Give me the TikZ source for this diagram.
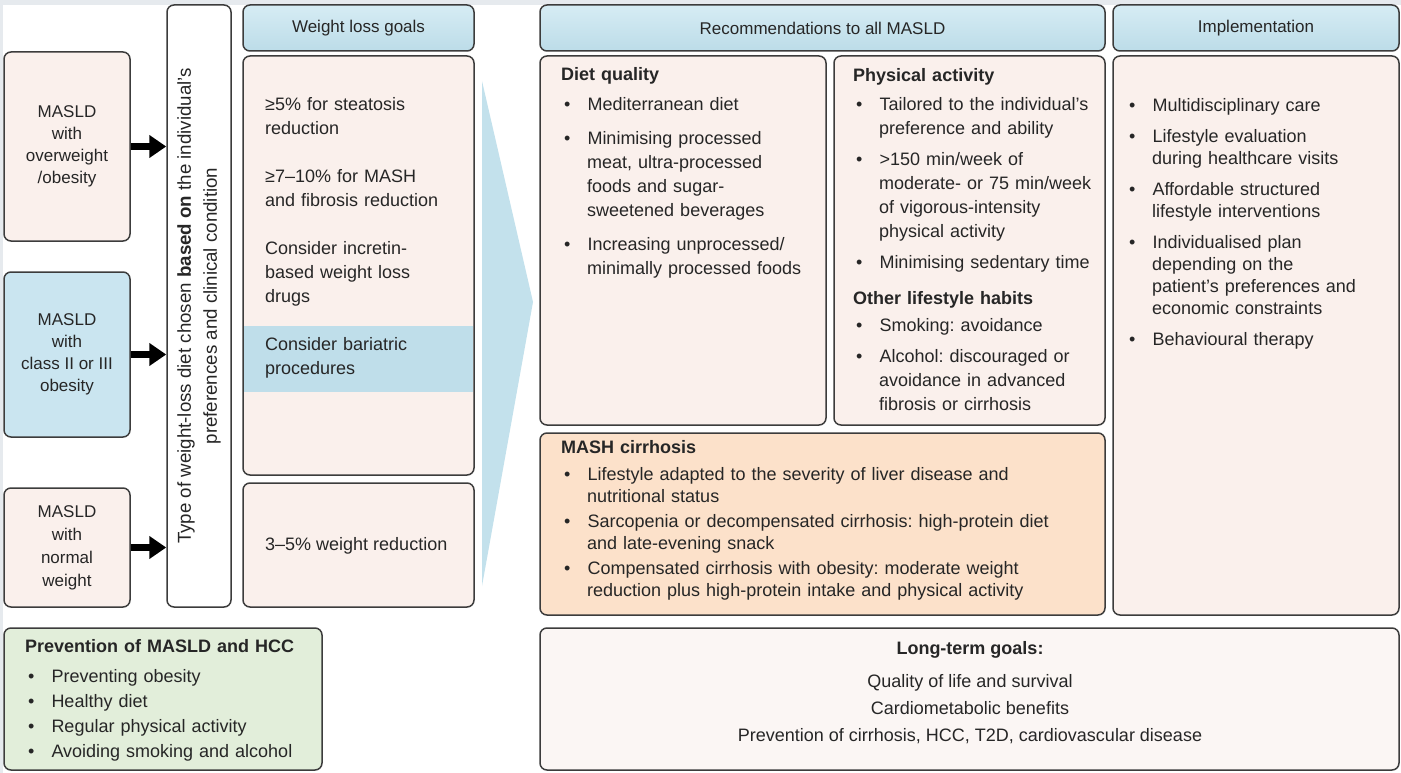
\documentclass[tikz,border=0pt]{standalone}
\usepackage{fontspec}
\setmainfont{Liberation Sans}
\usepackage{enumitem}
\usetikzlibrary{arrows.meta,calc}

\definecolor{edgegray}{HTML}{3C3C3C}
\definecolor{inkgray}{HTML}{262626}
\definecolor{framegray}{HTML}{E6EAEE}
\definecolor{peach}{HTML}{FAF0EC}
\definecolor{headtop}{HTML}{D6ECF4}
\definecolor{headbot}{HTML}{BCDCE8}
\definecolor{bluebox}{HTML}{CAE5F0}
\definecolor{bandblue}{HTML}{BFDEEA}
\definecolor{chevblue}{HTML}{C3E1EC}
\definecolor{greenbox}{HTML}{E2EEDA}
\definecolor{orangebox}{HTML}{FCE1CA}
\definecolor{longbox}{HTML}{FBF6F4}

\setlist[itemize]{label=\textbullet, leftmargin=26pt, labelwidth=6pt, labelsep=17pt,
  align=left, topsep=0pt, partopsep=0pt, parsep=0pt, itemsep=9pt}
\frenchspacing

\begin{document}
\begin{tikzpicture}[x=1pt, y=-1pt,
    box/.style={draw=edgegray, line width=1.5pt, rounded corners=7pt, fill=peach,
      inner sep=0pt, text=inkgray},
    headbox/.style={box, top color=headtop, bottom color=headbot,
      font=\fontsize{17}{20}\selectfont},
    txt/.style={anchor=north west, inner sep=0pt, align=left, text=inkgray,
      font=\fontsize{18}{24}\selectfont},
    fatarrow/.style={line width=7pt, draw=black, -{Triangle[length=17pt,width=22pt]}}]

    % frame
    \fill[framegray] (0,0) rectangle (1401,773);
    \fill[white] (3,5) rectangle (1401,773);
    \useasboundingbox (0,0) rectangle (1401,773);

    % big arrow behind
    \fill[chevblue] (482,81) -- (533,302) -- (482,586) -- cycle;

    % patient groups
    \node[box, minimum width=126, minimum height=189, align=center,
      font=\fontsize{17}{22}\selectfont] (ovw) at (67,146.5) {MASLD\\with\\overweight\\/obesity};
    \node[box, fill=bluebox, minimum width=126, minimum height=165, align=center,
      font=\fontsize{17}{22}\selectfont] (cls) at (67,354.5) {MASLD\\with\\class II or III\\obesity};
    \node[box, minimum width=126, minimum height=119, align=center,
      font=\fontsize{17}{23}\selectfont] (nrm) at (67,547.5) {MASLD\\with\\normal\\weight};

    \node[box, fill=white, minimum width=64, minimum height=602] (vtype) at (199,306) {};
    \node[rotate=90, align=center, text=inkgray, font=\fontsize{18.7}{26}\selectfont]
      (vtypetxt) at (vtype.center) {Type of weight-loss diet chosen \textbf{based on} the individual’s\\preferences and clinical condition};

    \draw[fatarrow] (ovw.east) -- (ovw.east -| vtype.west);
    \draw[fatarrow] (cls.east) -- (cls.east -| vtype.west);
    \draw[fatarrow] (nrm.east) -- (nrm.east -| vtype.west);

    % weight loss goals
    \node[headbox, minimum width=231, minimum height=46] (wlghead) at (358.5,28) {\raisebox{-1.5pt}{Weight loss goals}};
    \node[box, minimum width=231, minimum height=419] (goals) at (358.5,265.5) {};
    \fill[bandblue] (244,326) rectangle (473,392);
    \node[txt, text width=200] (goalstxt) at (265,97)
      {≥5\% for steatosis\\reduction\\[24pt]≥7–10\% for MASH\\and fibrosis reduction\\[24pt]Consider incretin-\\based weight loss\\drugs\\[24pt]Consider bariatric\\procedures};
    \node[box, minimum width=231, minimum height=124] (small) at (358.5,545) {};
    \node[txt, anchor=west] (smalltxt) at (265,546) {3–5\% weight reduction};

    % prevention
    \node[box, fill=greenbox, minimum width=318, minimum height=142] (prev) at (163,699) {};
    \node[txt, text width=290, font=\fontsize{18}{25}\selectfont] (prevtxt) at (25,639)
      {\textbf{Prevention of MASLD and HCC}\par\vspace{5pt}
      \begin{itemize}[itemsep=0pt]
        \item Preventing obesity
        \item Healthy diet
        \item Regular physical activity
        \item Avoiding smoking and alcohol
      \end{itemize}};

    % recommendations
    \node[headbox, minimum width=565, minimum height=46] (rechead) at (822.5,28) {\raisebox{-1.5pt}{Recommendations to all MASLD}};
    \node[box, minimum width=286, minimum height=369] (dietq) at (683,240.5) {};
    \node[txt, text width=262] (dietqtxt) at (561,67)
      {\textbf{Diet quality}\par\vspace{6pt}
      \begin{itemize}[itemsep=10pt]
        \item Mediterranean diet
        \item Minimising processed\\meat, ultra-processed\\foods and sugar-\\sweetened beverages
        \item Increasing unprocessed/\\minimally processed foods
      \end{itemize}};
    \node[box, minimum width=271, minimum height=369] (phys) at (969.5,240.5) {};
    \node[txt, text width=250] (phystxt) at (853,68)
      {\textbf{Physical activity}\par\vspace{5pt}
      \begin{itemize}[itemsep=7pt]
        \item Tailored to the individual’s\\preference and ability
        \item >150 min/week of\\moderate- or 75 min/week\\of vigorous-intensity\\physical activity
        \item Minimising sedentary time
      \end{itemize}
      \vspace{12pt}\textbf{Other lifestyle habits}\par\vspace{3pt}
      \begin{itemize}[itemsep=7pt]
        \item Smoking: avoidance
        \item Alcohol: discouraged or\\avoidance in advanced\\fibrosis or cirrhosis
      \end{itemize}};
    \node[box, fill=orangebox, minimum width=565, minimum height=182] (mash) at (822.5,524) {};
    \node[txt, text width=540, font=\fontsize{18}{22}\selectfont] (mashtxt) at (561,440)
      {\textbf{MASH cirrhosis}\par\vspace{5pt}
      \begin{itemize}[itemsep=3pt]
        \item Lifestyle adapted to the severity of liver disease and\\nutritional status
        \item Sarcopenia or decompensated cirrhosis: high-protein diet\\and late-evening snack
        \item Compensated cirrhosis with obesity: moderate weight\\reduction plus high-protein intake and physical activity
      \end{itemize}};

    % implementation
    \node[headbox, minimum width=286, minimum height=46] (imphead) at (1256,28) {\raisebox{-1.5pt}{Implementation}};
    \node[box, minimum width=286, minimum height=559] (impl) at (1256,335.5) {};
    \node[txt, text width=260, font=\fontsize{18}{22}\selectfont] (impltxt) at (1126,89)
      {\begin{itemize}[itemsep=9pt]
        \item Multidisciplinary care
        \item Lifestyle evaluation\\during healthcare visits
        \item Affordable structured\\lifestyle interventions
        \item Individualised plan\\depending on the\\patient’s preferences and\\economic constraints
        \item Behavioural therapy
      \end{itemize}};

    % long-term goals
    \node[box, fill=longbox, minimum width=859, minimum height=142] (longterm) at (969.5,699) {};
    \node[txt, anchor=north, align=center, font=\fontsize{18}{27}\selectfont] (longtxt) at (970,641)
      {\textbf{Long-term goals:}\\[6pt]Quality of life and survival\\Cardiometabolic benefits\\Prevention of cirrhosis, HCC, T2D, cardiovascular disease};
\end{tikzpicture}
\end{document}
